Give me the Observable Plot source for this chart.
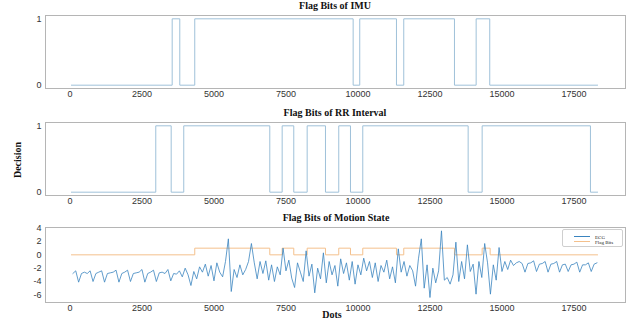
<!DOCTYPE html>
<html><head><meta charset="utf-8">
<script src="https://cdn.jsdelivr.net/npm/d3@7"></script>
<script src="https://cdn.jsdelivr.net/npm/@observablehq/plot@0.6"></script>
<style>
body{margin:0;background:#fff;}
#wrap{position:relative;width:631px;height:324px;overflow:hidden;background:#fff;}
.t{position:absolute;font-family:"Liberation Serif","Times New Roman",serif;font-weight:bold;font-size:10px;color:#111;white-space:nowrap;transform:translate(-50%,-50%);line-height:1;}
.lg{position:absolute;left:562px;top:229px;width:59px;height:16px;border:1px solid #cfcfcf;border-radius:2px;background:#fff;}
.lg .ln{position:absolute;left:11px;width:16px;height:0;}
.lg .tx{position:absolute;left:32px;font-family:"Liberation Serif","Times New Roman",serif;font-size:5px;color:#222;line-height:1;transform:translateY(-50%);white-space:nowrap;}
</style></head><body><div id="wrap"></div>
<script>
// x ticks
const xTicks = [0, 2500, 5000, 7500, 10000, 12500, 15000, 17500];
// IMU flag bits (change points and values)
const imuX = [50, 3549, 3813, 4333, 9833, 10062, 11337, 11590, 13351, 14104, 14576, 18326];
const imuY = [0, 1, 0, 1, 0, 1, 0, 1, 0, 1, 0, 0];
// RR interval flag bits
const rrX = [50, 2979, 3514, 3951, 6938, 7368, 7771, 8236, 8872, 9333, 9740, 10167, 13826, 14312, 18073, 18326];
const rrY = [0, 1, 0, 1, 0, 1, 0, 1, 0, 1, 0, 1, 0, 1, 0, 0];
// Motion state flag bits
const msX = [50, 4333, 6938, 7368, 7771, 8236, 8872, 9333, 9740, 10167, 11337, 11590, 13351, 14312, 14590, 18326];
const msY = [0, 1, 0, 1, 0, 1, 0, 1, 0, 1, 0, 1, 0, 1, 0, 0];
// ECG samples, every 100 dots starting at dot 100
const ecgStart = 100, ecgStep = 100;
const ecg = [
  -2.8,-2.4,-4.1,-2.8,-2.6,-2.8,-2.4,-4.0,-2.8,-2.6,
  -2.4,-4.1,-2.8,-2.7,-2.6,-2.3,-4.1,-2.8,-2.6,-2.3,
  -4.0,-2.8,-2.7,-2.6,-2.2,-4.1,-2.8,-2.6,-2.3,-4.0,
  -2.7,-2.6,-2.8,-2.2,-3.9,-2.8,-2.9,-2.4,-3.3,-2.0,
  -3.0,-4.6,-2.5,-3.6,-1.8,-2.6,-1.4,-3.2,-1.6,-3.9,
  -1.2,-2.6,-3.3,-1.0,2.4,-5.5,-2.2,-3.4,-1.5,-3.0,
  -2.2,-1.0,1.7,-1.2,-3.6,-1.0,-2.8,-0.9,-3.8,-1.5,
  -4.0,-1.8,-3.0,1.0,-2.4,-0.8,-3.5,-4.9,-1.2,-2.6,
  -4.0,0.6,-3.2,-1.4,-5.7,-2.0,-3.6,0.3,-4.2,-1.0,
  -3.0,-1.6,-4.7,-0.6,-2.8,-1.2,-3.8,-1.0,-4.4,-1.5,
  -3.0,-0.5,-2.4,-1.0,-3.4,-1.2,-4.0,-1.6,-2.6,-0.8,
  -3.6,-1.8,-4.2,0.9,-2.6,-1.0,-3.2,-1.6,-2.4,-4.7,
  -0.6,2.4,-5.0,-1.5,-6.4,-2.0,-4.2,-2.4,3.6,-3.8,
  -3.4,-4.4,-3.0,1.9,-4.0,-1.0,-3.6,1.5,-2.5,-1.4,
  -5.9,-1.0,-3.4,1.7,-1.2,-5.9,-1.5,-3.8,1.1,-2.5,
  -1.0,-2.2,-0.8,-1.6,-1.2,-1.0,-1.3,-2.6,-1.3,-1.2,
  -0.9,-2.5,-1.4,-1.3,-1.0,-2.6,-1.4,-1.3,-1.0,-2.6,
  -1.5,-1.4,-2.5,-1.5,-1.4,-1.1,-2.6,-1.5,-1.5,-1.2,
  -2.5,-1.4,-1.2
];
const ecgTicks = [4, 2, 0, -2, -4, -6];

const wrap = document.getElementById("wrap");
const fmt = d => String(d);

function panel({top, height, mt, mb, ydom, yticks, marks}) {
  const svg = Plot.plot({
    width: 631, height, marginLeft: 45, marginRight: 6, marginTop: mt, marginBottom: mb,
    style: {fontFamily: "'Liberation Sans', Arial, sans-serif", fontSize: "9px", color: "#333", background: "transparent", overflow: "visible"},
    x: {domain: [-850, 19290]},
    y: {domain: ydom},
    marks: [
      Plot.frame({stroke: "#b5b5b5", strokeWidth: 1}),
      ...marks,
      Plot.axisX({ticks: xTicks, tickSize: 0, tickPadding: 2, tickFormat: fmt, label: null}),
      Plot.axisY({ticks: yticks, tickSize: 0, tickPadding: 4, tickFormat: fmt, label: null})
    ]
  });
  svg.style.position = "absolute";
  svg.style.left = "0px";
  svg.style.top = top + "px";
  wrap.appendChild(svg);
}

const toRows = (xs, ys) => xs.map((x, i) => ({x, y: ys[i]}));

panel({top: 0, height: 100, mt: 15, mb: 12, ydom: [-0.05, 1.05], yticks: [0, 1],
  marks: [Plot.line(toRows(imuX, imuY), {x: "x", y: "y", curve: "step-after", stroke: "#9fc1d9", strokeWidth: 1})]});
panel({top: 105, height: 100, mt: 17, mb: 10, ydom: [-0.05, 1.05], yticks: [0, 1],
  marks: [Plot.line(toRows(rrX, rrY), {x: "x", y: "y", curve: "step-after", stroke: "#9fc1d9", strokeWidth: 1})]});
const ecgRows = ecg.map((v, i) => ({x: ecgStart + i * ecgStep, y: v}));
panel({top: 210, height: 102, mt: 17, mb: 10, ydom: [-7.15, 4.1], yticks: ecgTicks,
  marks: [
    Plot.line(toRows(msX, msY), {x: "x", y: "y", curve: "step-after", stroke: "#f4c08c", strokeWidth: 1}),
    Plot.line(ecgRows, {x: "x", y: "y", stroke: "#3a84bf", strokeWidth: 0.8})
  ]});

function label(text, x, y, rot) {
  const d = document.createElement("div");
  d.className = "t";
  d.textContent = text;
  d.style.left = x + "px";
  d.style.top = y + "px";
  if (rot) d.style.transform = "translate(-50%,-50%) rotate(-90deg)";
  wrap.appendChild(d);
}
label("Flag Bits of IMU", 335, 6);
label("Flag Bits of RR Interval", 335, 113);
label("Flag Bits of Motion State", 336, 218);
label("Decision", 18, 160, true);
label("Dots", 332, 315);

const lg = document.createElement("div");
lg.className = "lg";
lg.innerHTML =
  '<div class="ln" style="top:6px;border-top:1.2px solid #3a84bf"></div><div class="tx" style="top:6.5px">ECG</div>' +
  '<div class="ln" style="top:11px;border-top:1.2px solid #f4c08c"></div><div class="tx" style="top:11.5px">Flag Bits</div>';
wrap.appendChild(lg);
</script></body></html>
